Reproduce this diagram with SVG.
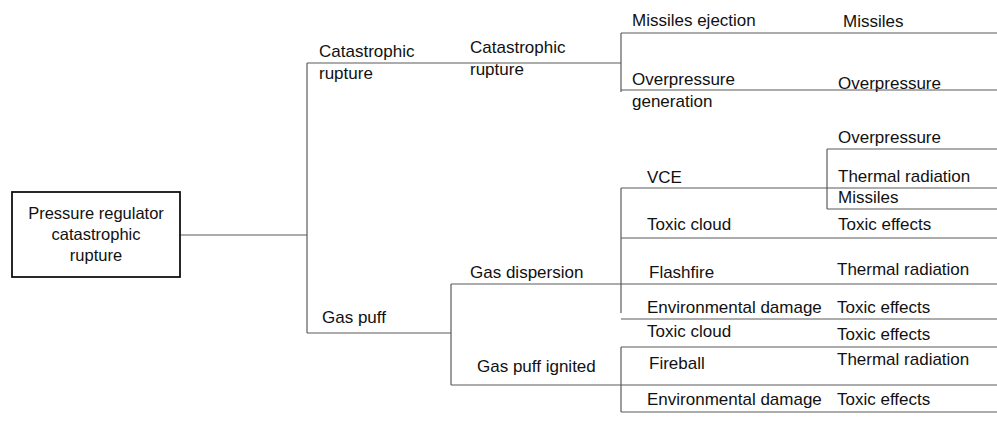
<svg xmlns="http://www.w3.org/2000/svg" width="997" height="421" viewBox="0 0 997 421">
  <style>
    text { font-family: "Liberation Sans", Arial, sans-serif; font-size: 17px; fill: #111; }
    .box { fill: #fff; stroke: #111; stroke-width: 1.8; }
    .c line { stroke: #5a5a5a; stroke-width: 1.2; }
    .mid { text-anchor: middle; font-size: 16.5px; }
  </style>
  <rect width="997" height="421" fill="#fff"/>
  <g id="connectors" class="c">
    <line x1="180" y1="235" x2="307" y2="235"/>
    <line x1="307" y1="63" x2="307" y2="333"/>
    <line x1="307" y1="63" x2="621" y2="63"/>
    <line x1="621" y1="33" x2="621" y2="92"/>
    <line x1="621" y1="33" x2="997" y2="33"/>
    <line x1="621" y1="90" x2="997" y2="90"/>
    <line x1="307" y1="333" x2="451" y2="333"/>
    <line x1="451" y1="284" x2="451" y2="385"/>
    <line x1="451" y1="284" x2="997" y2="284"/>
    <line x1="451" y1="385" x2="997" y2="385"/>
    <line x1="621" y1="188" x2="621" y2="313"/>
    <line x1="621" y1="188" x2="997" y2="188"/>
    <line x1="621" y1="238" x2="997" y2="238"/>
    <line x1="621" y1="319" x2="997" y2="319"/>
    <line x1="827" y1="149" x2="827" y2="209"/>
    <line x1="827" y1="149" x2="997" y2="149"/>
    <line x1="827" y1="209" x2="997" y2="209"/>
    <line x1="621" y1="347" x2="621" y2="412"/>
    <line x1="621" y1="347" x2="997" y2="347"/>
    <line x1="621" y1="412" x2="997" y2="412"/>
  </g>
  <g id="root">
    <rect class="box" x="12" y="192" width="168" height="85"/>
    <text class="mid" x="96" y="219">Pressure regulator</text>
    <text class="mid" x="96" y="240">catastrophic</text>
    <text class="mid" x="96" y="261">rupture</text>
  </g>
  <g id="cat-rupture-1"><text x="319" y="57">Catastrophic</text><text x="319" y="79">rupture</text></g>
  <g id="cat-rupture-2"><text x="470" y="53">Catastrophic</text><text x="470" y="75">rupture</text></g>
  <g id="missiles-ejection"><text x="632" y="26">Missiles ejection</text></g>
  <g id="missiles-1"><text x="843" y="27">Missiles</text></g>
  <g id="overpressure-gen"><text x="632" y="85">Overpressure</text><text x="632" y="107">generation</text></g>
  <g id="overpressure-1"><text x="838" y="89">Overpressure</text></g>
  <g id="gas-puff"><text x="322" y="323">Gas puff</text></g>
  <g id="gas-dispersion"><text x="470" y="278">Gas dispersion</text></g>
  <g id="gas-puff-ignited"><text x="477" y="372">Gas puff ignited</text></g>
  <g id="vce"><text x="647" y="183">VCE</text></g>
  <g id="overpressure-2"><text x="838" y="143">Overpressure</text></g>
  <g id="thermal-1"><text x="838" y="182">Thermal radiation</text></g>
  <g id="missiles-2"><text x="838" y="203">Missiles</text></g>
  <g id="toxic-cloud-1"><text x="647" y="230">Toxic cloud</text></g>
  <g id="toxic-effects-1"><text x="838" y="230">Toxic effects</text></g>
  <g id="flashfire"><text x="649" y="278">Flashfire</text></g>
  <g id="thermal-2"><text x="837" y="275">Thermal radiation</text></g>
  <g id="env-damage-1"><text x="647" y="313">Environmental damage</text></g>
  <g id="toxic-effects-2"><text x="837" y="313">Toxic effects</text></g>
  <g id="toxic-cloud-2"><text x="647" y="337">Toxic cloud</text></g>
  <g id="toxic-effects-3"><text x="837" y="340">Toxic effects</text></g>
  <g id="fireball"><text x="649" y="369">Fireball</text></g>
  <g id="thermal-3"><text x="837" y="365">Thermal radiation</text></g>
  <g id="env-damage-2"><text x="647" y="405">Environmental damage</text></g>
  <g id="toxic-effects-4"><text x="837" y="405">Toxic effects</text></g>
</svg>
